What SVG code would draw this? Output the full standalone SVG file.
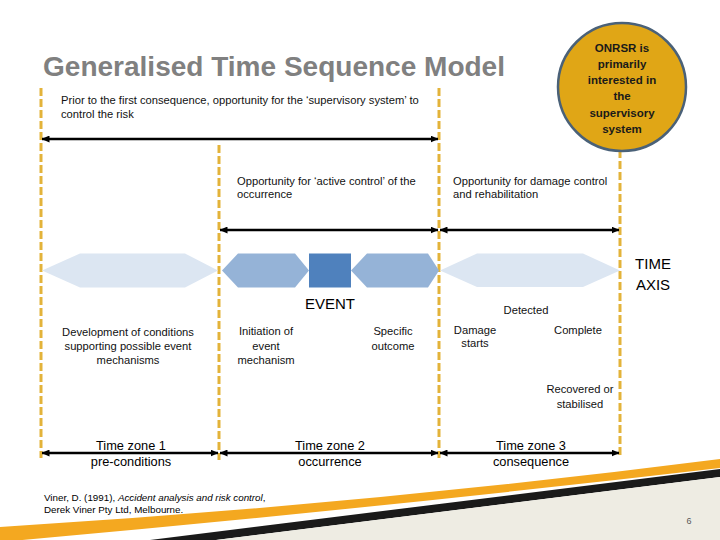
<svg xmlns="http://www.w3.org/2000/svg" width="720" height="540" viewBox="0 0 720 540">
  <defs>
    <marker id="ah" viewBox="0 0 8 7" markerWidth="8" markerHeight="7" refX="7.5" refY="3.5" orient="auto-start-reverse" markerUnits="userSpaceOnUse">
      <path d="M0,0 L8,3.5 L0,7 z" fill="#000"/>
    </marker>
    <style>
      .t { font-family: "Liberation Sans", Arial, sans-serif; font-size: 11.2px; fill: #111; }
      .c { text-anchor: middle; }
      .dash { stroke: #E3B33A; stroke-width: 3; stroke-dasharray: 8 3; fill: none; }
      .arr { stroke: #000; stroke-width: 2.5; fill: none; marker-start: url(#ah); marker-end: url(#ah); }
      .light { fill: #DCE6F2; }
      .mid { fill: #95B3D7; }
      .dark { fill: #4F81BD; }
      .zone { font-family: "Liberation Sans", Arial, sans-serif; font-size: 12.8px; fill: #000; text-anchor: middle; }
      .big { font-family: "Liberation Sans", Arial, sans-serif; font-size: 15px; fill: #000; text-anchor: middle; }
      .foot { font-family: "Liberation Sans", Arial, sans-serif; font-size: 9.8px; fill: #000; }
    </style>
  </defs>
  <rect width="720" height="540" fill="#fff"/>

  <!-- bottom decoration -->
  <g id="decoration">
    <path d="M0,527 Q360,505 720,459 L720,468 Q360,510 0,542 Z" fill="#F4A820"/>
    <path d="M720,469 L720,477 L216,540 L150,540 Z" fill="#1A1A1A"/>
    <path d="M720,477 L720,540 L216,540 Z" fill="#EEECE3"/>
  </g>

  <!-- title -->
  <g id="title">
    <text x="43" y="76" font-family="'Liberation Sans', Arial, sans-serif" font-size="27" font-weight="bold" fill="#808080" textLength="462" lengthAdjust="spacingAndGlyphs">Generalised Time Sequence Model</text>
  </g>

  <!-- dashed boundaries -->
  <g id="boundaries">
    <line class="dash" x1="41" y1="88" x2="41" y2="458"/>
    <line class="dash" x1="219" y1="145" x2="219" y2="460"/>
    <line class="dash" x1="439" y1="88" x2="439" y2="458"/>
    <line class="dash" x1="620" y1="150" x2="620" y2="456"/>
  </g>

  <!-- ONRSR circle -->
  <g id="onrsr">
    <circle cx="622" cy="87" r="64" fill="#E0A616" stroke="#4A6178" stroke-width="2.5"/>
    <g font-family="'Liberation Sans', Arial, sans-serif" font-size="11.5" font-weight="bold" fill="#1a1a1a" text-anchor="middle">
      <text x="622" y="52">ONRSR is</text>
      <text x="622" y="68">primarily</text>
      <text x="622" y="84">interested in</text>
      <text x="622" y="100">the</text>
      <text x="622" y="117">supervisory</text>
      <text x="622" y="133">system</text>
    </g>
  </g>

  <!-- opportunity labels -->
  <g id="supervisory-label">
    <text class="t" x="61" y="104">Prior to the first consequence, opportunity for the ‘supervisory system’ to</text>
    <text class="t" x="61" y="118">control the risk</text>
  </g>
  <g id="active-label">
    <text class="t" x="237" y="185">Opportunity for ‘active control’ of the</text>
    <text class="t" x="237" y="198">occurrence</text>
  </g>
  <g id="damage-label">
    <text class="t" x="453" y="185">Opportunity for damage control</text>
    <text class="t" x="453" y="198">and rehabilitation</text>
  </g>

  <!-- time axis shapes -->
  <g id="preconditions-shape">
    <polygon class="light" points="42,270.5 80,253.5 185,253.5 218,270.5 185,287.5 80,287.5"/>
  </g>
  <g id="initiation-shape">
    <polygon class="mid" points="222,270.5 238,253.5 295,253.5 309,270.5 295,287.5 238,287.5"/>
  </g>
  <g id="event">
    <rect class="dark" x="309" y="253.5" width="42" height="34"/>
    <text class="big" x="330" y="309">EVENT</text>
  </g>
  <g id="outcome-shape">
    <polygon class="mid" points="351,270.5 367,253.5 428,253.5 439,270.5 428,287.5 367,287.5"/>
  </g>
  <g id="consequence-shape">
    <polygon class="light" points="440,270.5 477,253.5 583,253.5 620,270.5 583,287 477,287"/>
  </g>
  <g id="time-axis">
    <text class="big" x="653" y="269">TIME</text>
    <text class="big" x="653" y="290">AXIS</text>
  </g>

  <!-- stage labels -->
  <g id="development">
    <text class="t c" x="128" y="336">Development of conditions</text>
    <text class="t c" x="128" y="350">supporting possible event</text>
    <text class="t c" x="128" y="364">mechanisms</text>
  </g>
  <g id="initiation">
    <text class="t c" x="266" y="335">Initiation of</text>
    <text class="t c" x="266" y="350">event</text>
    <text class="t c" x="266" y="364">mechanism</text>
  </g>
  <g id="specific">
    <text class="t c" x="393" y="335">Specific</text>
    <text class="t c" x="393" y="350">outcome</text>
  </g>
  <g id="damage">
    <text class="t c" x="475" y="334">Damage</text>
    <text class="t c" x="475" y="347">starts</text>
  </g>
  <g id="detected">
    <text class="t c" x="526" y="314">Detected</text>
  </g>
  <g id="complete">
    <text class="t c" x="578" y="334">Complete</text>
  </g>
  <g id="recovered">
    <text class="t c" x="580" y="393">Recovered or</text>
    <text class="t c" x="580" y="408">stabilised</text>
  </g>

  <!-- connectors -->
  <g id="connectors">
    <line class="arr" x1="42" y1="139" x2="438" y2="139"/>
    <line class="arr" x1="220" y1="230" x2="438" y2="230"/>
    <line class="arr" x1="440" y1="230" x2="619" y2="230"/>
    <line class="arr" x1="42" y1="453" x2="218" y2="453"/>
    <line class="arr" x1="220" y1="453" x2="438" y2="453"/>
    <line class="arr" x1="440" y1="453" x2="619" y2="453"/>
  </g>

  <!-- time zones -->
  <g id="zone1">
    <text class="zone" x="131" y="450">Time zone 1</text>
    <text class="zone" x="131" y="466">pre-conditions</text>
  </g>
  <g id="zone2">
    <text class="zone" x="330" y="450">Time zone 2</text>
    <text class="zone" x="330" y="466">occurrence</text>
  </g>
  <g id="zone3">
    <text class="zone" x="531" y="450">Time zone 3</text>
    <text class="zone" x="531" y="466">consequence</text>
  </g>

  <!-- footer -->
  <g id="reference">
    <text class="foot" x="44" y="501">Viner, D. (1991), <tspan font-style="italic">Accident analysis and risk control</tspan>,</text>
    <text class="foot" x="44" y="513">Derek Viner Pty Ltd, Melbourne.</text>
  </g>
  <g id="page-number">
    <text x="689" y="524" font-family="'Liberation Sans', Arial, sans-serif" font-size="9" fill="#595959" text-anchor="middle">6</text>
  </g>
</svg>
